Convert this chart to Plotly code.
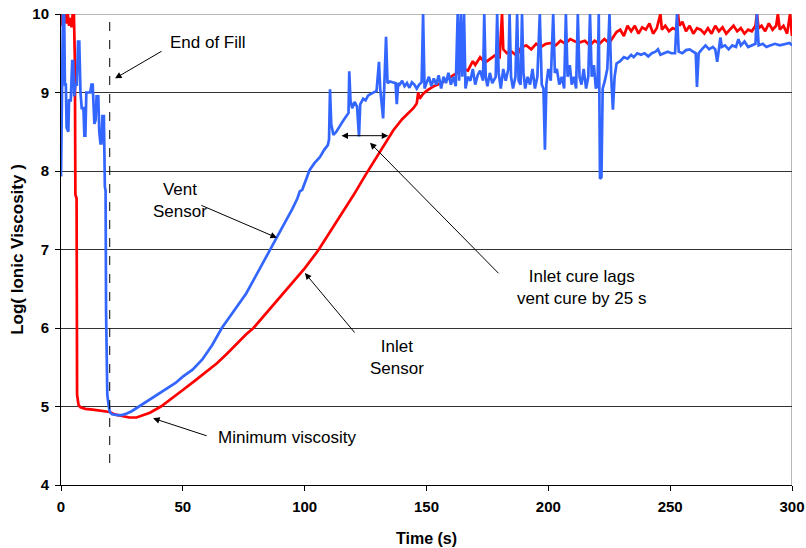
import plotly.graph_objects as go

# ---- Vent sensor (blue) ----
vent_time = [0, 0.4, 0.8, 1.3, 1.6, 2.0, 2.3, 3.0, 3.3, 4.0, 4.6, 5.0, 5.4, 5.9, 6.5, 7.0, 7.5, 8.0, 8.5, 9.2,
             9.6, 10.0, 10.4, 12.0, 12.5, 13.0, 13.3, 13.7, 14.2, 14.6, 15.3, 15.7, 16.2, 16.6, 17.0, 17.6, 18.0,
             18.3, 18.5, 19.0, 19.4, 20.0, 21, 23, 25, 27, 29, 32, 36, 40, 43, 47, 50, 54, 58, 62, 66, 70, 73, 76,
             79, 82, 86, 89, 92.6, 95, 97, 98, 99, 100, 102, 104, 106.3, 108, 109.5, 110, 110.4, 110.9, 111.8, 113,
             114, 115, 116, 117.5, 118, 118.3, 118.8, 119.5, 120.5, 121.5, 122.3, 122.8, 124, 125, 126, 127, 128,
             129.5, 130.5, 131, 132.2, 132.8, 133.4, 134, 135, 136, 137.3, 137.8, 138.4, 139, 140, 141, 142, 143,
             144, 145, 146, 147, 148, 148.6, 149.2,
             150, 151, 152, 153, 154, 155, 156, 157, 158, 159, 160, 161, 162, 162.8, 163.4, 164.1, 164.7, 165.4,
             166, 167, 168, 169, 170, 171, 172, 173.2, 173.7, 174.3, 175, 176, 177, 178.4, 179, 179.6, 180.5,
             181.5, 182.5, 183.6, 184.1, 184.7, 185.5, 186.5, 187.2, 187.8, 188.6, 189.2, 189.8, 190.5, 191.5,
             192.5, 193.5, 194.5, 195.5, 196.5, 197.3, 198.0, 198.6, 199.2, 200, 201, 202, 202.7, 203.5, 204.5,
             205.5, 206.5, 207.2, 207.9, 208.8, 209.6, 210.5, 211.4, 212.1, 212.8, 213.6, 214.5, 215.5, 216.4,
             217.1, 217.8, 218.7, 219.5, 220.2, 220.7, 221.2, 221.8, 222.3, 223.2, 224.2, 225.1, 225.8, 226.5,
             227.2, 228, 229.5, 231, 232.5, 234, 235, 236.5, 238, 239.5, 241, 242.5, 244, 245, 246, 247.5, 249,
             250.5, 252, 252.8, 253.5, 255, 256.5, 258, 259.5, 260.5, 261, 261.7, 263, 264.5, 266, 267.5, 268.5,
             269.3, 270, 270.6, 271.2, 272.5, 274, 275.5, 277, 278, 279, 280.5, 282, 283.5, 285, 285.6, 286.3,
             288, 289.5, 291, 293, 295, 297, 299, 300]
vent_logvisc = [7.93, 9.1, 10, 10, 9.1, 9.1, 8.55, 8.5, 8.9, 8.9, 9.4, 9.4, 8.95, 9.1, 9.1, 9.65, 9.65, 9.0, 8.8, 8.8,
                8.45, 8.45, 9.0, 9.0, 9.1, 9.1, 8.8, 8.6, 8.65, 8.95, 8.95, 8.5, 8.35, 8.35, 8.7, 8.7, 7.8,
                7.75, 6.2, 5.15, 5.05, 4.93, 4.9, 4.89, 4.89, 4.91, 4.94, 5.0, 5.08, 5.15, 5.21, 5.3, 5.38, 5.47, 5.6,
                5.78, 6.0, 6.18, 6.3, 6.44,
                6.61, 6.78, 6.99, 7.18, 7.38, 7.52, 7.65, 7.74, 7.76, 7.85, 8.01, 8.1, 8.18, 8.27, 8.33, 8.4, 9.04,
                8.6, 8.46, 8.5,
                8.56, 8.6, 8.65, 8.72, 8.74, 9.27, 8.9, 8.8, 8.88, 8.82, 8.44, 8.85, 8.92, 8.9, 8.96, 8.98, 9.0,
                9.02, 9.39, 9.05, 8.67, 9.1, 9.71, 9.12, 9.14, 9.13, 9.12, 8.85, 9.12, 9.1, 9.15, 9.08, 9.12, 9.06,
                9.13, 9.1, 9.05, 9.1, 9.13, 10, 9.05,
                9.12, 9.2, 9.08, 9.18, 9.1, 9.22, 9.05, 9.2, 9.12, 9.25, 9.1, 9.2, 9.08, 10, 9.15, 10, 9.2, 10,
                9.05, 9.2, 9.15, 9.3, 9.1, 9.22, 9.28, 9.15, 10, 9.2, 9.08, 9.25, 9.12, 9.2, 10, 9.25, 9.05,
                9.3, 9.15, 9.3, 10, 9.2, 9.05, 9.2, 10, 9.15, 9.1, 10, 9.25, 9.05, 9.2,
                9.1, 9.3, 9.05, 9.2, 10, 9.1, 9.05, 8.27, 9.1, 9.3, 9.15, 10, 9.25, 9.3, 9.1,
                9.2, 9.05, 10, 9.2, 9.35, 9.1, 9.2, 9.05, 10, 9.2, 9.1, 9.3, 9.05, 9.2,
                10, 9.2, 9.35, 9.05, 9.1, 10, 7.9, 7.92, 9.05, 9.15, 9.3, 10, 9.2, 8.78,
                9.2, 9.37, 9.4, 9.45, 9.43, 9.48, 9.45, 9.5, 9.48, 9.5, 9.46, 9.5, 9.52, 9.55, 9.48, 9.5, 9.52,
                9.5, 9.5, 10, 9.52, 9.5, 9.54, 9.55, 9.52, 9.5, 9.07, 9.5, 9.55, 9.6, 9.55, 9.58, 9.55,
                9.39, 9.55, 9.7, 9.58, 9.6, 9.55, 9.6, 9.58, 9.68, 9.6, 9.65, 9.58, 9.6, 9.62, 10, 9.6,
                9.62, 9.58, 9.6, 9.62, 9.6, 9.62, 9.63, 9.6]

# ---- Inlet sensor (red) ----
inlet_time = [0, 0.5, 1.2, 1.7, 2.3, 2.8, 3.3, 3.8, 4.3, 4.8, 5.3, 5.7, 5.9, 6.4, 6.6, 6.9, 7.2, 8, 10, 13, 16, 18,
              19.5, 20, 22, 25, 28, 31, 34, 36.5, 41, 45, 50, 55, 60, 64, 68, 72, 76, 79, 84, 88, 92, 96.7, 100,
              105.6, 110, 115, 120, 125, 129.5, 133, 136.4, 140, 144.6, 146, 146.6, 147.2, 148.5, 150, 153, 156,
              160, 163, 165, 167, 169, 170, 172, 174, 176, 178, 180, 181, 181.5, 183, 185, 187, 189, 191, 193, 195,
              197, 199, 201, 203, 205, 207, 209, 211, 213, 215, 217, 219, 221, 223, 225, 227, 228, 229.5, 231,
              232.5, 234, 235.5, 237, 238.5, 240, 241.5, 243, 244.5, 246, 246.6, 248, 249.5, 251, 252.5, 253.2,
              253.8, 255, 256.5, 258, 259.5, 261, 262.5, 264, 265.5, 267, 268.5, 270, 271.5, 273, 274.5, 276,
              277.5, 279, 280.5, 282, 283.5, 285, 285.6, 286.3, 287.5, 289, 290.5, 292, 293.5, 294.2, 295, 296.5,
              298, 299.2, 300]
inlet_logvisc = [9.85, 10, 9.9, 10, 9.88, 10, 9.85, 9.95, 9.83, 10, 10, 9.4, 7.7, 7.65, 5.15, 5.1, 5.02, 4.99, 4.97,
                 4.96, 4.95, 4.94, 4.94, 4.93, 4.9, 4.88, 4.86, 4.86, 4.89, 4.92, 5.0, 5.09, 5.21, 5.33, 5.45, 5.55,
                 5.67, 5.8, 5.92, 6.0, 6.18, 6.32, 6.46, 6.63, 6.76, 6.99, 7.2, 7.44, 7.69, 7.95, 8.18, 8.36, 8.52,
                 8.66, 8.8, 8.86, 9.0, 8.92, 8.98, 9.02, 9.08, 9.12, 9.2, 9.25, 9.3, 9.28, 9.4, 9.35, 9.45, 9.38,
                 9.42, 9.47, 9.45, 10, 9.55, 9.5, 9.52, 9.47, 9.58, 9.6, 9.55, 9.62, 9.58, 9.62, 9.63, 9.6, 9.66,
                 9.62, 9.68, 9.65, 9.64, 9.66, 9.6, 9.66, 9.62, 9.68, 9.63, 9.72, 9.77, 9.8, 9.72, 9.85, 9.78,
                 9.85, 9.75, 9.83, 9.8, 9.88, 9.75, 9.82, 10, 9.8, 9.85, 9.78, 9.82, 9.8, 10, 9.85, 9.9, 9.78,
                 9.85, 9.75, 9.82, 9.8, 9.75, 9.82, 9.75, 9.85, 9.78, 9.83, 9.75, 9.8, 9.85, 9.78, 9.82, 9.75,
                 9.8, 9.78, 9.85, 10, 9.82, 9.85, 9.78, 9.88, 9.8, 9.85, 10, 9.8, 9.85, 9.75, 10, 9.72]

x_ticks = [0, 50, 100, 150, 200, 250, 300]
y_ticks = [4, 5, 6, 7, 8, 9, 10]
end_of_fill_time = 20

FONT = "Liberation Sans, Arial, sans-serif"

fig = go.Figure()
fig.add_trace(go.Scatter(x=inlet_time, y=inlet_logvisc, mode="lines", name="Inlet Sensor",
                         line=dict(color="#FF0000", width=2.7)))
fig.add_trace(go.Scatter(x=vent_time, y=vent_logvisc, mode="lines", name="Vent Sensor",
                         line=dict(color="#3366FF", width=2.7)))

fig.update_layout(
    width=806, height=548,
    margin=dict(l=61, r=14, t=14, b=63, autoexpand=False),
    paper_bgcolor="white", plot_bgcolor="white",
    showlegend=False,
    font=dict(family=FONT, color="black"),
)
fig.update_xaxes(range=[0, 300], tickvals=x_ticks, showgrid=False, zeroline=False, automargin=False,
                 showline=True, linecolor="black", linewidth=1,
                 ticks="outside", ticklen=5, tickcolor="black", ticklabelstandoff=3,
                 tickfont=dict(size=15, family=FONT, color="black", weight="bold"),
                 title=dict(text="<b>Time (s)</b>", font=dict(size=16, family=FONT), standoff=18))
fig.update_yaxes(range=[4, 10], tickvals=y_ticks, showgrid=True, gridcolor="#333333", gridwidth=1,
                 zeroline=False, showline=True, linecolor="black", linewidth=1, automargin=False,
                 ticks="outside", ticklen=5, tickcolor="black", ticklabelstandoff=3,
                 tickfont=dict(size=15, family=FONT, color="black", weight="bold"),
                 title=dict(text="<b>Log( Ionic Viscosity )</b>", font=dict(size=17, family=FONT), standoff=4))

# plot-area border (top and right, gray)
fig.add_shape(type="line", xref="paper", yref="y", x0=0, x1=1, y0=10, y1=10,
              line=dict(color="#A0A0A0", width=1.5), layer="below")
fig.add_shape(type="line", xref="x", yref="y", x0=300, x1=300, y0=4, y1=10,
              line=dict(color="#A0A0A0", width=1.5), layer="below")
# end of fill dashed line
fig.add_shape(type="line", xref="x", yref="y", x0=end_of_fill_time, x1=end_of_fill_time, y0=4.28, y1=10,
              line=dict(color="black", width=1, dash="dash"))

afont = dict(size=17, family=FONT, color="black")
arrow = dict(showarrow=True, arrowhead=2, arrowsize=1.3, arrowwidth=1, arrowcolor="black")

# text labels
fig.add_annotation(x=60.3, y=9.64, text="End of Fill", showarrow=False, font=afont)
fig.add_annotation(x=48.8, y=7.62, text="Vent<br>Sensor", showarrow=False, font=afont)
fig.add_annotation(x=137.9, y=5.62, text="Inlet<br>Sensor", showarrow=False, font=afont)
fig.add_annotation(x=213.8, y=6.51, text="Inlet cure lags<br>vent cure by 25 s", showarrow=False, font=afont)
fig.add_annotation(x=92.7, y=4.60, text="Minimum viscosity", showarrow=False, font=afont)

# arrows
fig.add_annotation(x=22.2, y=9.18, ax=48, ay=-28, text="", **arrow)
fig.add_annotation(x=88.6, y=7.15, ax=-77, ay=-33, text="", **arrow)
fig.add_annotation(x=100.1, y=6.70, ax=51, ay=61, text="", **arrow)
fig.add_annotation(x=126.8, y=8.36, ax=130, ay=132, text="", **arrow)
fig.add_annotation(x=37.8, y=4.85, ax=55, ay=18, text="", **arrow)
fig.add_annotation(x=134.3, y=8.45, ax=114.5, ay=8.45, axref="x", ayref="y", text="",
                   arrowside="end+start", **arrow)

fig.write_html("out.html", config={"displayModeBar": False},
               post_script="document.body.style.margin='0';document.body.style.overflow='hidden';")
